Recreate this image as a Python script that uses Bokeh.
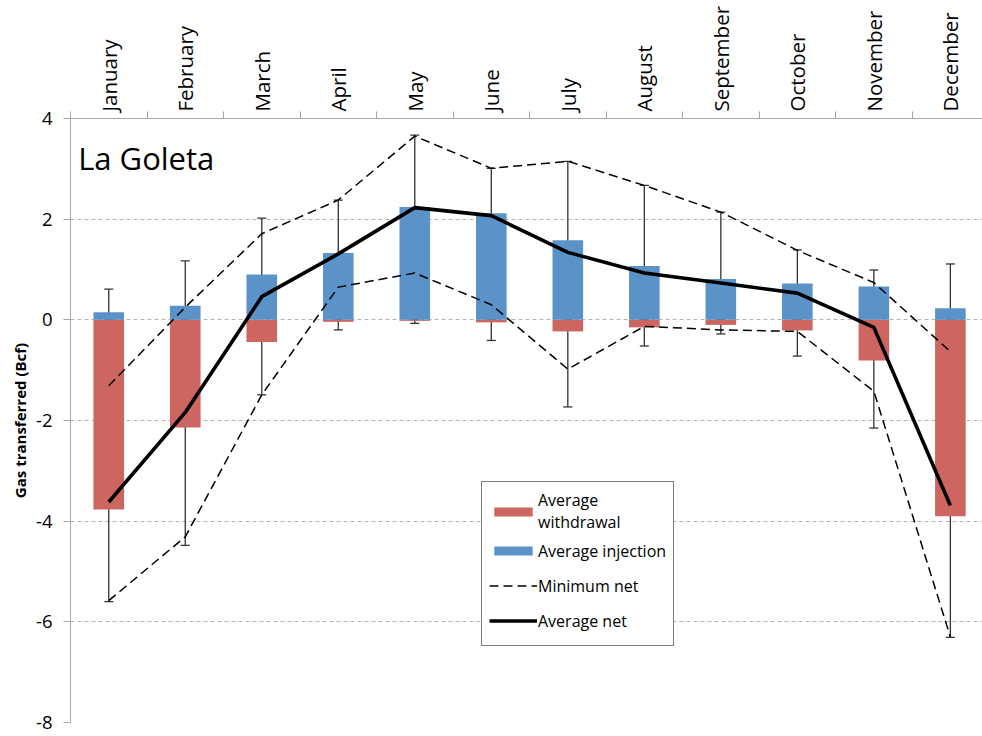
from bokeh.plotting import figure
from bokeh.models import (Range1d, LinearAxis, FixedTicker, Whisker, TeeHead,
                          ColumnDataSource, Legend, LegendItem, Label, Grid)
from bokeh.embed import file_html
from bokeh.resources import INLINE

months = ["January", "February", "March", "April", "May", "June", "July",
          "August", "September", "October", "November", "December"]
injection = [0.15, 0.28, 0.90, 1.33, 2.24, 2.12, 1.58, 1.07, 0.81, 0.72, 0.66, 0.23]
withdrawal = [-3.77, -2.14, -0.44, -0.04, -0.02, -0.05, -0.23, -0.15, -0.10, -0.21, -0.81, -3.90]
average_net = [-3.62, -1.84, 0.46, 1.31, 2.23, 2.07, 1.34, 0.93, 0.73, 0.53, -0.15, -3.69]
maximum_net = [-1.31, 0.25, 1.71, 2.38, 3.65, 3.01, 3.15, 2.67, 2.14, 1.38, 0.74, -0.63]
minimum_net = [-5.58, -4.31, -1.49, 0.65, 0.93, 0.30, -0.98, -0.13, -0.20, -0.23, -1.42, -6.30]
inj_err_low = [0.0, 0.0, 0.10, 0.77, 0.99, 0.69, 0.58, 0.25, 0.07, 0.30, 0.18, 0.0]
inj_err_high = [0.61, 1.17, 2.02, 2.38, 3.67, 3.01, 3.15, 2.67, 2.14, 1.39, 0.99, 1.11]
wd_err_low = [-5.60, -4.48, -1.49, -0.20, -0.07, -0.41, -1.73, -0.52, -0.28, -0.72, -2.15, -6.31]
wd_err_high = [-1.80, -0.42, -0.12, 0.0, 0.0, 0.0, 0.0, 0.0, 0.0, 0.0, -0.05, -1.03]
y_ticks = [-8, -6, -4, -2, 0, 2, 4]

xc = [i + 0.5 for i in range(len(months))]
src = ColumnDataSource(dict(x=xc, inj=injection, wd=withdrawal, net=average_net,
                            mx=maximum_net, mn=minimum_net,
                            il=inj_err_low, ih=inj_err_high, wl=wd_err_low, wh=wd_err_high))

FONT = "Open Sans"
GREY = "#a6a6a6"

p = figure(width=982, height=736, output_backend="svg", toolbar_location=None,
           x_range=Range1d(0, 11.92), y_range=Range1d(-8, 4),
           x_axis_location=None, y_axis_location=None,
           min_border_left=70, min_border_right=0, min_border_top=118, min_border_bottom=14)
p.outline_line_color = None
p.background_fill_color = "white"
p.center = [c for c in p.center if not isinstance(c, Grid)]

grid = Grid(dimension=1, ticker=FixedTicker(ticks=[t for t in y_ticks if t != y_ticks[-1]]),
            grid_line_color="#b4b4b4", grid_line_dash="4 3", grid_line_width=1)
p.add_layout(grid)

yaxis = LinearAxis(ticker=FixedTicker(ticks=y_ticks), axis_label="Gas transferred (Bcf)",
                   major_label_overrides={t: str(t) for t in y_ticks})
yaxis.axis_line_color = GREY
yaxis.major_tick_line_color = GREY
yaxis.major_tick_out = 7
yaxis.major_tick_in = 0
yaxis.minor_tick_line_color = None
yaxis.major_label_text_font = FONT
yaxis.major_label_text_font_size = "18.5px"
yaxis.major_label_text_color = "black"
yaxis.major_label_standoff = 11
yaxis.axis_label_text_font = FONT
yaxis.axis_label_text_font_style = "bold"
yaxis.axis_label_text_font_size = "15px"
yaxis.axis_label_text_color = "black"
yaxis.axis_label_standoff = 3
p.add_layout(yaxis, "left")

xaxis = LinearAxis(ticker=FixedTicker(ticks=xc, minor_ticks=list(range(len(months) + 1))),
                   major_label_overrides={x: m for x, m in zip(xc, months)})
xaxis.axis_line_color = GREY
xaxis.major_tick_line_color = None
xaxis.major_tick_out = 0
xaxis.major_tick_in = 0
xaxis.minor_tick_line_color = GREY
xaxis.minor_tick_out = 7
xaxis.minor_tick_in = 0
xaxis.major_label_orientation = "vertical"
xaxis.major_label_text_font = FONT
xaxis.major_label_text_font_size = "20.5px"
xaxis.major_label_text_color = "black"
xaxis.major_label_standoff = 0
p.add_layout(xaxis, "above")

RED = "#cd6661"
BLUE = "#5b93c9"
r_wd = p.vbar(x="x", top="wd", bottom=0, width=0.4, source=src, fill_color=RED, line_color=None)
r_inj = p.vbar(x="x", top="inj", bottom=0, width=0.4, source=src, fill_color=BLUE, line_color=None)

for lo, hi in (("il", "ih"), ("wl", "wh")):
    w = Whisker(base="x", lower=lo, upper=hi, source=src, dimension="height",
                line_color="#333333", line_width=1.3,
                lower_head=TeeHead(size=9, line_color="#333333", line_width=1.3),
                upper_head=TeeHead(size=9, line_color="#333333", line_width=1.3))
    p.add_layout(w)

r_max = p.line(x="x", y="mx", source=src, line_color="black", line_width=1.5, line_dash="9 5")
r_min = p.line(x="x", y="mn", source=src, line_color="black", line_width=1.5, line_dash="9 5")
r_net = p.line(x="x", y="net", source=src, line_color="black", line_width=3.6, line_join="round")

p.add_layout(Label(x=0.1, y=3.22, text="La Goleta", text_font=FONT, text_font_size="31px",
                   text_color="black", text_baseline="alphabetic"))

legend = Legend(items=[
    LegendItem(label="Average\nwithdrawal", renderers=[r_wd]),
    LegendItem(label="Average injection", renderers=[r_inj]),
    LegendItem(label="Minimum net", renderers=[r_min]),
    LegendItem(label="Average net", renderers=[r_net]),
], location=(411, 76))
legend.margin = 0
legend.padding = 7
legend.spacing = 0
legend.label_height = 35
legend.glyph_width = 48
legend.glyph_height = 11
legend.label_standoff = 1
legend.label_text_font = FONT
legend.label_text_font_size = "16px"
legend.label_text_line_height = 1.0
legend.label_text_color = "black"
legend.border_line_color = "black"
legend.border_line_width = 1
legend.background_fill_color = "white"
legend.background_fill_alpha = 1
p.add_layout(legend, "center")

open("out.html", "w").write(file_html(p, INLINE))
